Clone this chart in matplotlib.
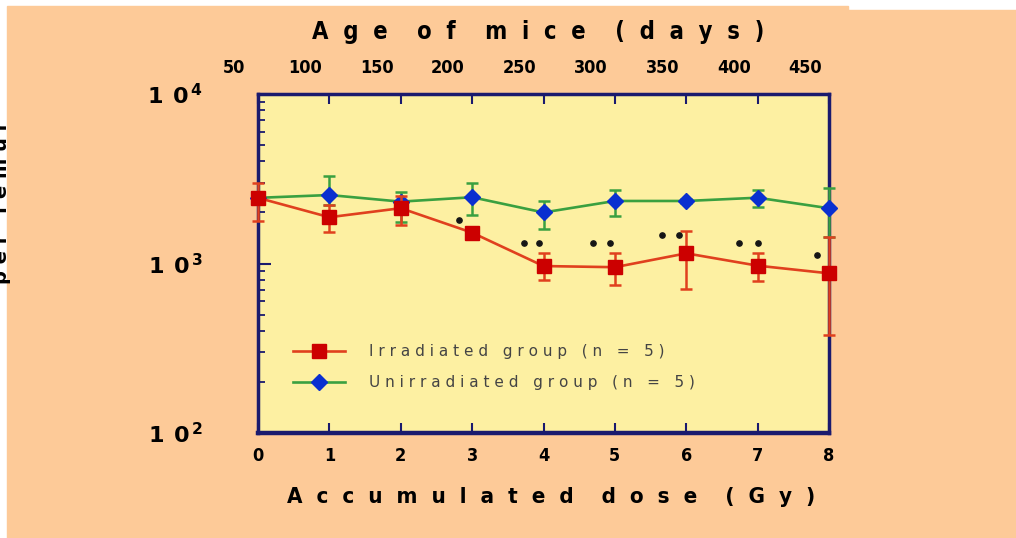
import matplotlib
matplotlib.use("Agg")
import matplotlib.pyplot as plt
import matplotlib.transforms as mtransforms
from matplotlib.patches import Rectangle
from matplotlib.ticker import FixedLocator, LogLocator, NullFormatter

# data
dose = [0, 1, 2, 3, 4, 5, 6, 7, 8]
age_labels = ["50", "100", "150", "200", "250", "300", "350", "400", "450"]

irr_mean = [2440, 1875, 2120, 1520, 966, 951, 1148, 971, 875]
irr_lo = [1780, 1540, 1690, 1460, 800, 747, 705, 791, 378]
irr_hi = [2970, 2210, 2510, 1590, 1158, 1148, 1556, 1148, 1429]

unirr_mean = [2440, 2535, 2317, 2460, 2000, 2338, 2338, 2444, 2118]
unirr_lo = [2440, 2210, 1766, 1931, 1600, 1906, 2270, 2143, 1439]
unirr_hi = [2440, 3280, 2630, 2972, 2344, 2716, 2410, 2716, 2780]

star_x = [2.82, 3.72, 3.94, 4.69, 4.93, 5.66, 5.90, 6.74, 7.0, 7.83]
star_y = [1807, 1321, 1321, 1321, 1321, 1472, 1472, 1321, 1321, 1122]

yticks = [100, 1000, 10000]
ytick_labels = [r"$\mathbf{1\;\,0^{\,2}}$", r"$\mathbf{1\;\,0^{\,3}}$", r"$\mathbf{1\;\,0^{\,4}}$"]

PEACH = "#fdca98"
PLOT_BG = "#fdf0a2"
NAVY = "#1a1a6e"
RED_LINE = "#e0401e"
RED_MARK = "#cc0000"
GREEN = "#3aa040"
BLUE = "#0a2fd0"


def spaced(s, gap=" "):
    return gap.join(s)


W, H = 1016, 538
fig = plt.figure(figsize=(W / 100, H / 100), dpi=100, facecolor="white")
fig.patches.append(Rectangle((7 / W, 0), (848 - 7) / W, 1 - 6 / H,
                             transform=fig.transFigure, color=PEACH, zorder=-10))
fig.patches.append(Rectangle((848 / W, 0), 1 - 848 / W, 1 - 10 / H,
                             transform=fig.transFigure, color=PEACH, zorder=-10))

ax = fig.add_axes([258 / W, 1 - 433 / H, (829 - 258) / W, (433 - 94) / H])
ax.set_facecolor(PLOT_BG)
ax.set_yscale("log")
ax.set_xlim(0, 8)
ax.set_ylim(100, 10000)

# unirradiated
ax.errorbar(dose, unirr_mean,
            yerr=[[m - l for m, l in zip(unirr_mean, unirr_lo)],
                  [h - m for m, h in zip(unirr_mean, unirr_hi)]],
            fmt="none", ecolor=GREEN, elinewidth=1.8, capsize=4.5, capthick=1.8,
            clip_on=False, zorder=3)
ax.plot(dose, unirr_mean, color=GREEN, lw=1.9, marker="D", ms=8,
        mfc=BLUE, mec=BLUE, clip_on=False, zorder=4,
        label=spaced("Unirradiated") + "   " + spaced("group") + "   ( n   =   5 )")

# irradiated
ax.errorbar(dose, irr_mean,
            yerr=[[m - l for m, l in zip(irr_mean, irr_lo)],
                  [h - m for m, h in zip(irr_mean, irr_hi)]],
            fmt="none", ecolor=RED_LINE, elinewidth=1.8, capsize=4.5, capthick=1.8,
            clip_on=False, zorder=5)
ax.plot(dose, irr_mean, color=RED_LINE, lw=1.9, marker="s", ms=10.5,
        mfc=RED_MARK, mec=RED_MARK, clip_on=False, zorder=6,
        label=spaced("Irradiated") + "   " + spaced("group") + "   ( n   =   5 )")

# significance marks
ax.plot(star_x, star_y, ls="none", marker="o", ms=3.8, color="#151515", zorder=7)

for side in ["left", "right", "top", "bottom"]:
    ax.spines[side].set_color(NAVY)
    ax.spines[side].set_linewidth(2.5)
ax.spines["bottom"].set_linewidth(3.2)

tick_font = dict(fontsize=13, fontweight="heavy", fontstretch="condensed")

ax.xaxis.set_major_locator(FixedLocator(dose))
ax.set_xticklabels([str(d) for d in dose], **tick_font)
ax.tick_params(axis="x", direction="in", length=7, width=1.5, color=NAVY, pad=10)

ax.yaxis.set_major_locator(FixedLocator(yticks))
ax.set_yticklabels(ytick_labels, fontsize=16)
ax.yaxis.set_minor_locator(LogLocator(base=10, subs=range(2, 10)))
ax.yaxis.set_minor_formatter(NullFormatter())
ax.tick_params(axis="y", which="major", direction="in", length=9, width=1.5,
               color=NAVY, pad=40)
ax.tick_params(axis="y", which="minor", direction="in", length=5, width=1.3,
               color=NAVY)

# top axis: age of mice
ax2 = ax.twiny()
ax2.set_xlim(0, 8)
ax2.xaxis.set_major_locator(FixedLocator(dose))
ax2.set_xticklabels(age_labels, **tick_font)
ax2.tick_params(axis="x", direction="in", length=7, width=1.5, color=NAVY, pad=12)
shift = mtransforms.ScaledTranslation(-0.24, 0, fig.dpi_scale_trans)
for lab in ax2.get_xticklabels():
    lab.set_transform(lab.get_transform() + shift)
for side in ["left", "right", "top", "bottom"]:
    ax2.spines[side].set_visible(False)

leg = ax.legend(loc="center left", bbox_to_anchor=(0.061, 0.195), frameon=False,
                fontsize=11, handlelength=3.4, handletextpad=1.6, labelspacing=1.05,
                borderpad=0, borderaxespad=0, reverse=True)
for t in leg.get_texts():
    t.set_color("#444444")

label_font = dict(fontweight="heavy", fontstretch="condensed",
                  ha="center", va="center")
fig.text(538 / W, 1 - 32 / H,
         spaced("Age", "  ") + "    " + spaced("of", "  ") + "    "
         + spaced("mice", "  ") + "    " + spaced("(days)", "  "),
         fontsize=17, **label_font)
fig.text(551 / W, 1 - 497 / H,
         spaced("Accumulated", "  ") + "    " + spaced("dose", "  ") + "    "
         + spaced("(Gy)", "  "), fontsize=16, **label_font)

# y label, cut off by the left edge in the reference
fig.text(2 / W, 1 - 202 / H, spaced("per femur"), rotation=90, fontsize=14,
         fontweight="heavy", ha="center", va="center")

fig.savefig("out.png", dpi=100, facecolor=fig.get_facecolor())
